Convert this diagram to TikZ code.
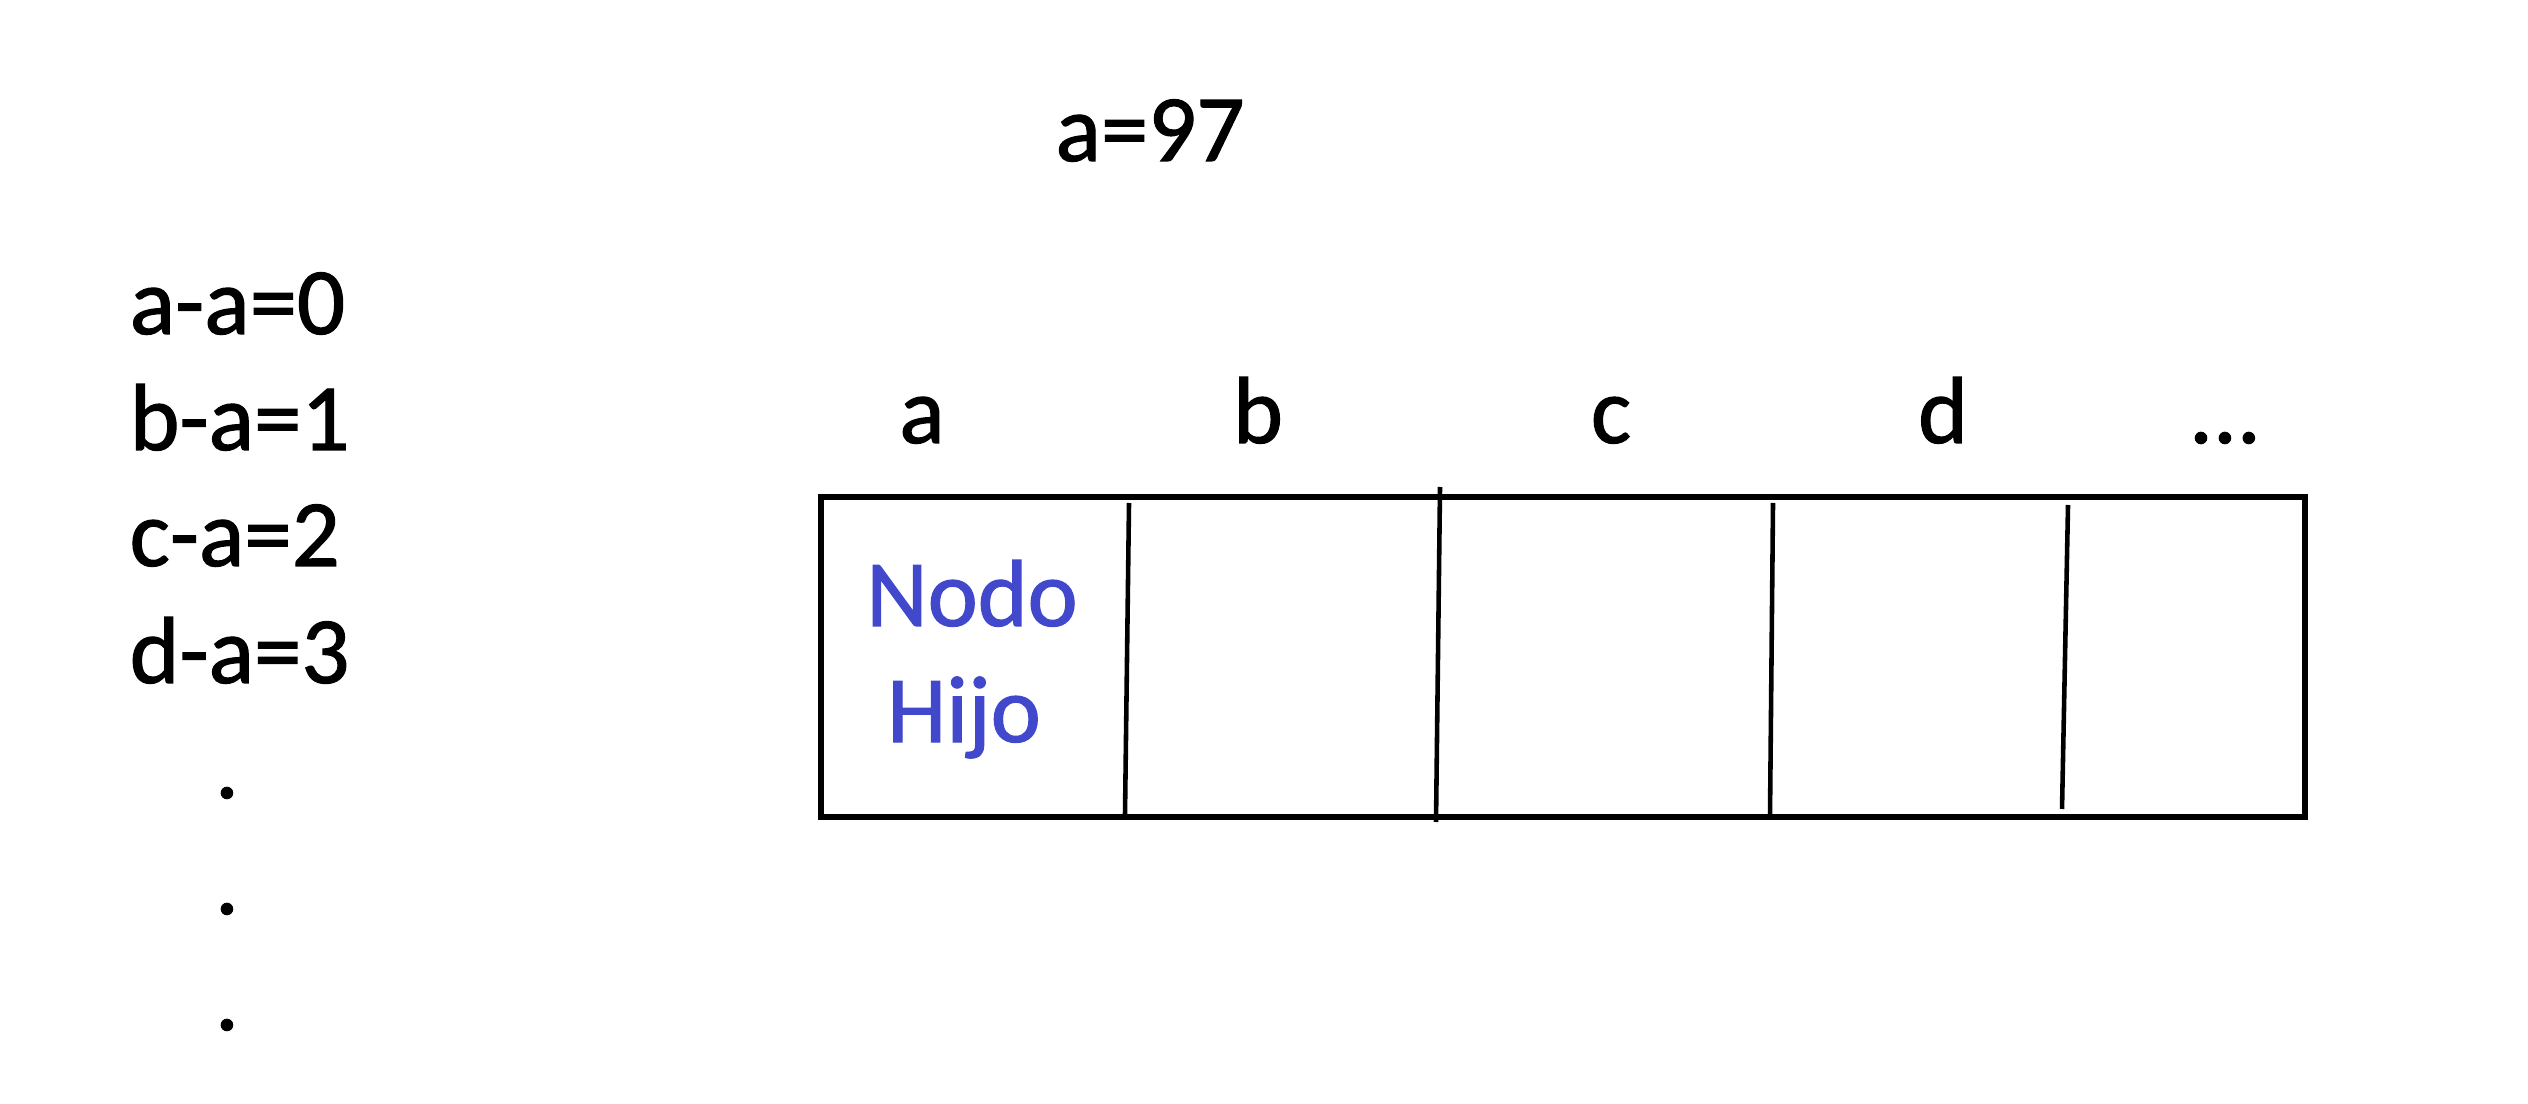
\documentclass[tikz,border=0pt]{standalone}
\usepackage{fontspec}
\setmainfont{Carlito}[FakeBold=1.2]
\definecolor{nodoblue}{RGB}{66,72,204}
\begin{document}
\begin{tikzpicture}[x=0.01cm,y=-0.01cm,
  lbl/.style={font=\fontsize{27}{32}\selectfont, inner sep=0pt, anchor=base},
  lbll/.style={lbl, anchor=base west},
  bluetxt/.style={lbl, text=nodoblue},
  frame/.style={line width=1.7pt},
  divider/.style={line width=1.3pt}]
\useasboundingbox (0,0) rectangle (2528,1104);
\fill[white] (0,0) rectangle (2528,1104);
% title
\node[lbl] (title) at (1150,161) {a=97};
% left list
\node[lbll] (l0) at (129,334) {a-a=0};
\node[lbll] (l1) at (129,450) {b-a=1};
\node[lbll] (l2) at (129,566) {c-a=2};
\node[lbll] (l3) at (129,683) {d-a=3};
\node[lbl] (d1) at (227,798) {.};
\node[lbl] (d2) at (227,914) {.};
\node[lbl] (d3) at (227,1030) {.};
% column letters
\node[lbl] (ca) at (922,443) {a};
\node[lbl] (cb) at (1258,443) {b};
\node[lbl] (cc) at (1611,443) {c};
\node[lbl] (cd) at (1943,443) {d};
\node[lbl] (ce) at (2225,443) {...};
% box
\coordinate (tl) at (821,497);
\coordinate (br) at (2305,817);
\draw[frame] (tl) rectangle (br);
% dividers
\coordinate (v1t) at (1129,503); \coordinate (v1b) at (1125,814);
\coordinate (v2t) at (1440,487); \coordinate (v2b) at (1436,822);
\coordinate (v3t) at (1773,503); \coordinate (v3b) at (1770,814);
\coordinate (v4t) at (2068,505); \coordinate (v4b) at (2062,809);
\draw[divider] (v1t) -- (v1b);
\draw[divider] (v2t) -- (v2b);
\draw[divider] (v3t) -- (v3b);
\draw[divider] (v4t) -- (v4b);
% cell text
\node[bluetxt] (nodo) at (972,626) {Nodo};
\node[bluetxt] (hijo) at (964,742) {Hijo};
\end{tikzpicture}
\end{document}
